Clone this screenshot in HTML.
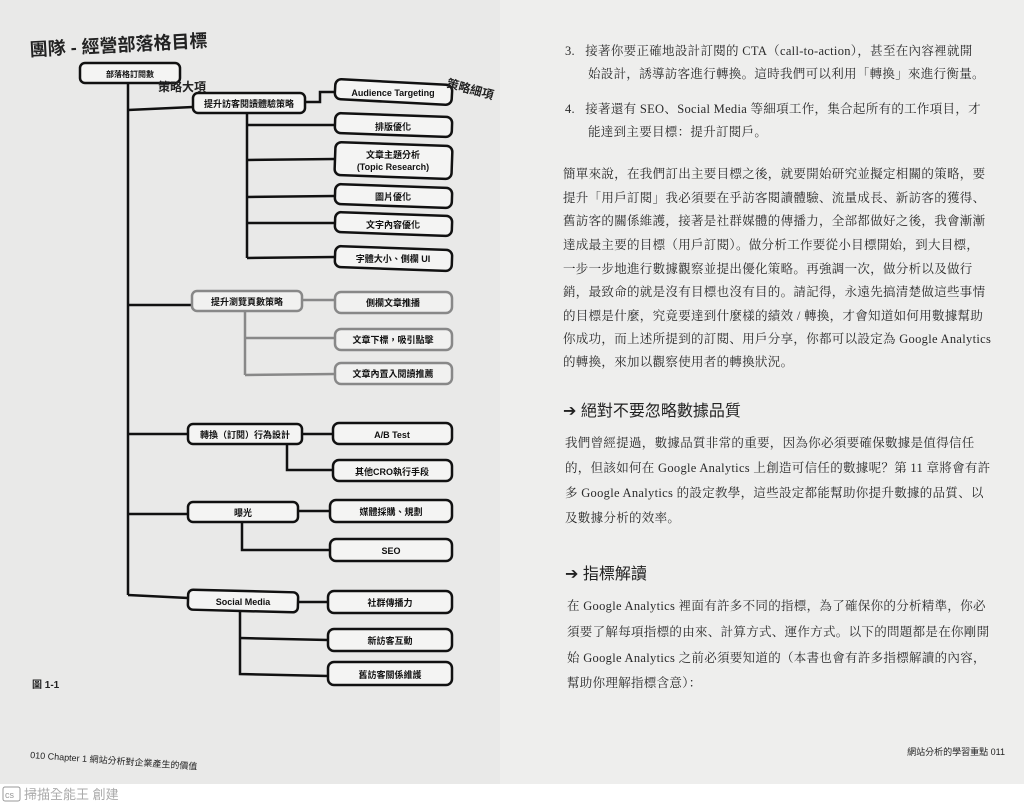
<!DOCTYPE html>
<html><head><meta charset="utf-8">
<style>
html,body{margin:0;padding:0}
body{width:1024px;height:807px;position:relative;overflow:hidden;background:#fff;font-family:"Liberation Sans","Noto Sans CJK TC",sans-serif;color:#222}
#left{position:absolute;left:0;top:0;width:500px;height:784px;background:#e9e9e8}
#right{position:absolute;left:500px;top:0;width:524px;height:784px;background:#eeeeed}
.t{position:absolute;white-space:nowrap;font-family:"Liberation Serif","Noto Serif CJK SC",serif;font-size:12.5px;color:#2a2a2a;letter-spacing:0.3px}
.h{position:absolute;white-space:nowrap;font-family:"Liberation Sans","Noto Sans CJK TC",sans-serif;font-size:16px;color:#222}
</style></head><body>
<div id="left"></div>
<div id="right"></div>
<svg style="position:absolute;left:0;top:0" width="1024" height="807" font-family="Liberation Sans, Noto Sans CJK TC, sans-serif">
<text x="30" y="56" font-size="18" font-weight="bold" fill="#222" transform="rotate(-3 30 56)">團隊 - 經營部落格目標</text>
<g fill="none" stroke="#111" stroke-width="2.5">
<rect x="80" y="63" width="100" height="20" rx="5" fill="#f4f4f3"/>
<line x1="128" y1="83" x2="128" y2="595"/>
<line x1="128" y1="110" x2="193" y2="107"/>
<line x1="128" y1="305" x2="192" y2="305"/>
<line x1="128" y1="434" x2="188" y2="434"/>
<line x1="128" y1="514" x2="188" y2="514"/>
<line x1="128" y1="595" x2="188" y2="598"/>
<rect x="193" y="93" width="112" height="20" rx="5" fill="#f4f4f3"/>
<polyline points="305,102 320,102 320,92 335,92"/>
<line x1="247" y1="113" x2="247" y2="258"/>
<line x1="247" y1="125" x2="335" y2="125"/>
<line x1="247" y1="160" x2="335" y2="159"/>
<line x1="247" y1="197" x2="335" y2="196"/>
<line x1="247" y1="223" x2="335" y2="223"/>
<line x1="247" y1="258" x2="335" y2="257"/>
<rect x="335" y="82" width="117" height="20" rx="6" fill="#f4f4f3" transform="rotate(3 393 92)"/>
<rect x="335" y="115" width="117" height="20" rx="6" fill="#f4f4f3" transform="rotate(2 393 125)"/>
<rect x="335" y="144" width="117" height="33" rx="6" fill="#f4f4f3" transform="rotate(2 393 160)"/>
<rect x="335" y="186" width="117" height="20" rx="6" fill="#f4f4f3" transform="rotate(2 393 196)"/>
<rect x="335" y="214" width="117" height="20" rx="6" fill="#f4f4f3" transform="rotate(2 393 224)"/>
<rect x="335" y="248" width="117" height="21" rx="6" fill="#f4f4f3" transform="rotate(2 393 258)"/>
<rect x="188" y="424" width="114" height="20" rx="5" fill="#f4f4f3"/>
<line x1="302" y1="434" x2="333" y2="434"/>
<polyline points="287,444 287,470 333,470"/>
<rect x="333" y="423" width="119" height="21" rx="6" fill="#f4f4f3"/>
<rect x="333" y="460" width="119" height="21" rx="6" fill="#f4f4f3"/>
<rect x="188" y="502" width="110" height="20" rx="5" fill="#f4f4f3"/>
<line x1="298" y1="511" x2="330" y2="511"/>
<polyline points="242,522 242,550 330,550"/>
<rect x="330" y="500" width="122" height="22" rx="6" fill="#f4f4f3"/>
<rect x="330" y="539" width="122" height="22" rx="6" fill="#f4f4f3"/>
<rect x="188" y="591" width="110" height="20" rx="5" fill="#f4f4f3" transform="rotate(1.5 243 601)"/>
<line x1="298" y1="602" x2="328" y2="602"/>
<polyline points="240,611 240,674 328,676"/>
<line x1="240" y1="638" x2="328" y2="640"/>
<rect x="328" y="591" width="124" height="22" rx="6" fill="#f4f4f3"/>
<rect x="328" y="629" width="124" height="22" rx="6" fill="#f4f4f3"/>
<rect x="328" y="662" width="124" height="23" rx="6" fill="#f4f4f3"/>
</g>
<g fill="none" stroke="#888" stroke-width="2.5">
<rect x="192" y="291" width="110" height="20" rx="5" fill="#f1f1f0"/>
<line x1="302" y1="300" x2="335" y2="300"/>
<line x1="245" y1="311" x2="245" y2="375"/>
<line x1="245" y1="338" x2="335" y2="338"/>
<line x1="245" y1="375" x2="335" y2="374"/>
<rect x="335" y="292" width="117" height="21" rx="6" fill="#f1f1f0"/>
<rect x="335" y="329" width="117" height="21" rx="6" fill="#f1f1f0"/>
<rect x="335" y="363" width="117" height="21" rx="6" fill="#f1f1f0"/>
</g>
<g font-size="9" font-weight="bold" fill="#111" text-anchor="middle">
<text x="130" y="77" font-size="8">部落格訂閱數</text>
<text x="249" y="107">提升訪客閱讀體驗策略</text>
<text x="393" y="96">Audience Targeting</text>
<text x="393" y="130">排版優化</text>
<text x="393" y="158">文章主題分析</text>
<text x="393" y="170">(Topic Research)</text>
<text x="393" y="200">圖片優化</text>
<text x="393" y="228">文字內容優化</text>
<text x="393" y="262">字體大小、側欄 UI</text>
<text x="247" y="305">提升瀏覽頁數策略</text>
<text x="393" y="306">側欄文章推播</text>
<text x="393" y="343">文章下標，吸引點擊</text>
<text x="393" y="377">文章內置入閱讀推薦</text>
<text x="245" y="438">轉換（訂閱）行為設計</text>
<text x="392" y="438">A/B Test</text>
<text x="392" y="475">其他CRO執行手段</text>
<text x="243" y="516">曝光</text>
<text x="391" y="515">媒體採購、規劃</text>
<text x="391" y="554">SEO</text>
<text x="243" y="605">Social Media</text>
<text x="390" y="606">社群傳播力</text>
<text x="390" y="644">新訪客互動</text>
<text x="390" y="678">舊訪客關係維護</text>
</g>
<text x="158" y="91" font-size="12" font-weight="bold" fill="#222">策略大項</text>
<text x="446" y="87" font-size="12" font-weight="bold" fill="#222" transform="rotate(15 446 87)">策略細項</text>
<text x="32" y="688" font-size="10" font-weight="bold" fill="#222">圖 1-1</text>
<text x="30" y="758" font-size="9" fill="#222" transform="rotate(4 30 758)">010  Chapter 1 網站分析對企業產生的價值</text>
<text x="1005" y="755" font-size="9" fill="#222" text-anchor="end">網站分析的學習重點  011</text>
<rect x="3" y="787" width="17" height="14" rx="2" fill="none" stroke="#999" stroke-width="1"/>
<text x="5" y="798" font-size="9" fill="#999">cs</text>
<text x="24" y="799" font-size="13" fill="#aaa">掃描全能王 創建</text>
</svg>
<div class="t" style="left:565px;top:41px">3.&nbsp;&nbsp;&nbsp;接著你要正確地設計訂閱的 CTA（call-to-action），甚至在內容裡就開</div>
<div class="t" style="left:588px;top:64px">始設計，誘導訪客進行轉換。這時我們可以利用「轉換」來進行衡量。</div>
<div class="t" style="left:565px;top:99px">4.&nbsp;&nbsp;&nbsp;接著還有 SEO、Social Media 等細項工作，集合起所有的工作項目，才</div>
<div class="t" style="left:588px;top:122px">能達到主要目標：提升訂閱戶。</div>
<div class="t" style="left:563px;top:164px">簡單來說，在我們訂出主要目標之後，就要開始研究並擬定相關的策略，要</div>
<div class="t" style="left:563px;top:188px">提升「用戶訂閱」我必須要在乎訪客閱讀體驗、流量成長、新訪客的獲得、</div>
<div class="t" style="left:563px;top:211px">舊訪客的關係維護，接著是社群媒體的傳播力，全部都做好之後，我會漸漸</div>
<div class="t" style="left:563px;top:235px">達成最主要的目標（用戶訂閱）。做分析工作要從小目標開始，到大目標，</div>
<div class="t" style="left:563px;top:259px">一步一步地進行數據觀察並提出優化策略。再強調一次，做分析以及做行</div>
<div class="t" style="left:563px;top:282px">銷，最致命的就是沒有目標也沒有目的。請記得，永遠先搞清楚做這些事情</div>
<div class="t" style="left:563px;top:306px">的目標是什麼，究竟要達到什麼樣的績效 / 轉換，才會知道如何用數據幫助</div>
<div class="t" style="left:563px;top:329px">你成功，而上述所提到的訂閱、用戶分享，你都可以設定為 Google Analytics</div>
<div class="t" style="left:563px;top:352px">的轉換，來加以觀察使用者的轉換狀況。</div>
<div class="h" style="left:563px;top:397px">➔ 絕對不要忽略數據品質</div>
<div class="t" style="left:565px;top:433px">我們曾經提過，數據品質非常的重要，因為你必須要確保數據是值得信任</div>
<div class="t" style="left:565px;top:458px">的，但該如何在 Google Analytics 上創造可信任的數據呢？第 11 章將會有許</div>
<div class="t" style="left:565px;top:483px">多 Google Analytics 的設定教學，這些設定都能幫助你提升數據的品質、以</div>
<div class="t" style="left:565px;top:508px">及數據分析的效率。</div>
<div class="h" style="left:565px;top:560px">➔ 指標解讀</div>
<div class="t" style="left:567px;top:596px">在 Google Analytics 裡面有許多不同的指標，為了確保你的分析精準，你必</div>
<div class="t" style="left:567px;top:622px">須要了解每項指標的由來、計算方式、運作方式。以下的問題都是在你剛開</div>
<div class="t" style="left:567px;top:648px">始 Google Analytics 之前必須要知道的（本書也會有許多指標解讀的內容，</div>
<div class="t" style="left:567px;top:673px">幫助你理解指標含意）：</div>
</body></html>
